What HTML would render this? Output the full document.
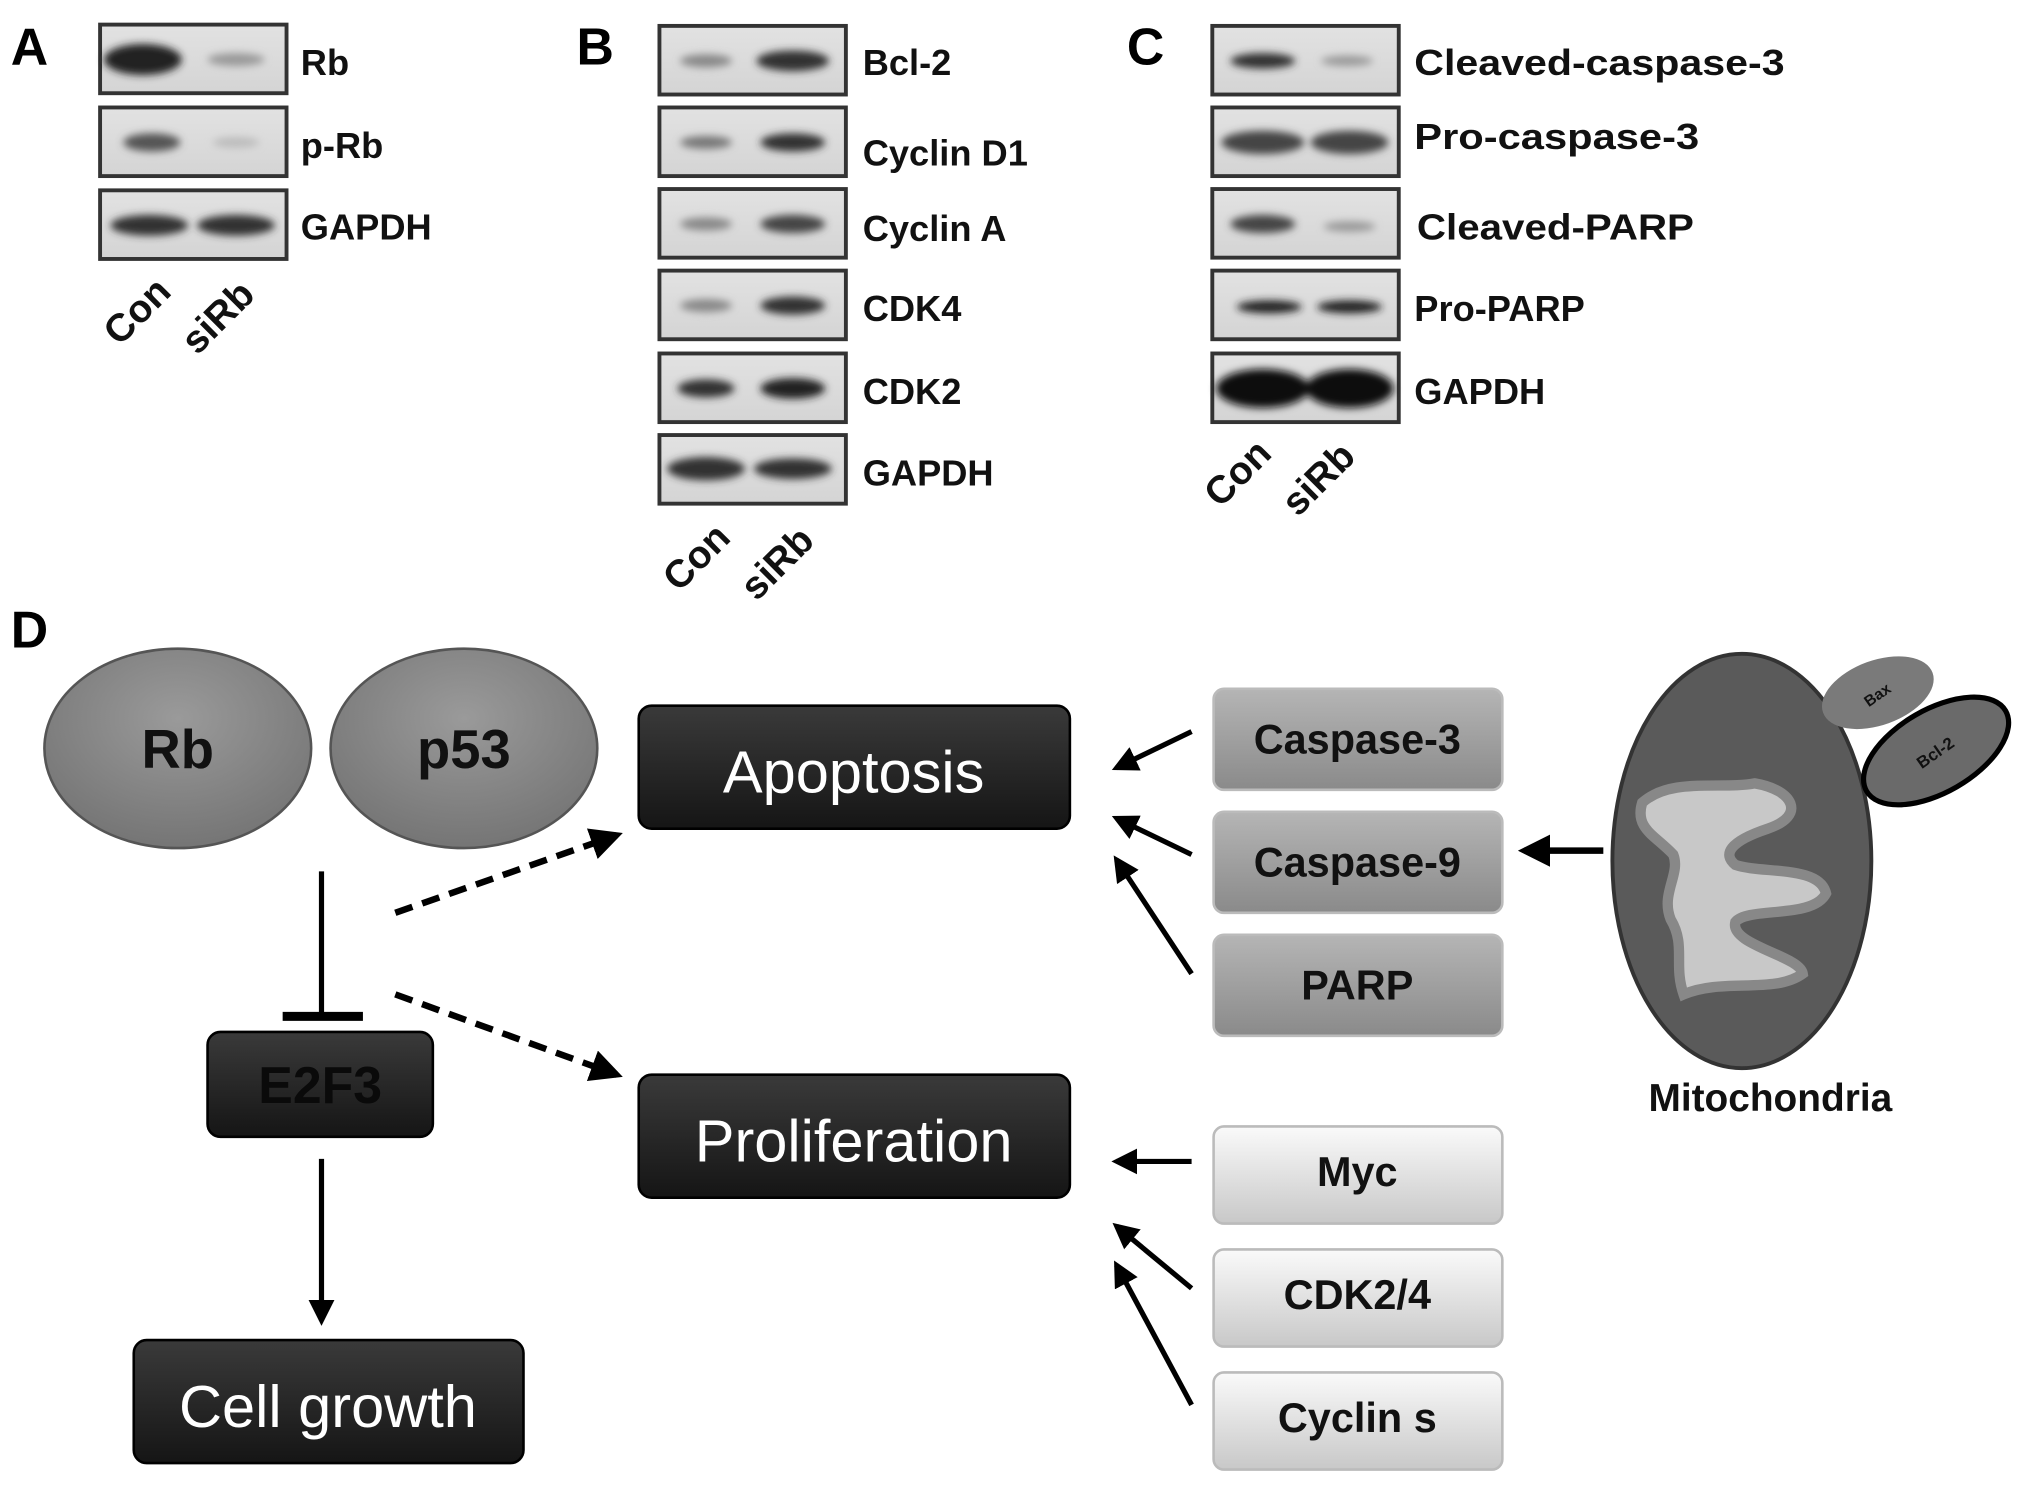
<!DOCTYPE html>
<html><head><meta charset="utf-8"><style>
html,body{margin:0;padding:0;background:#fff;}
svg{display:block}
text{font-family:"Liberation Sans Narrow","Liberation Sans",sans-serif;font-weight:bold;}
</style></head><body>
<svg width="2031" height="1489" viewBox="0 0 1568 1150" xmlns="http://www.w3.org/2000/svg">
<defs>
<linearGradient id="gbox" x1="0" y1="0" x2="0" y2="1"><stop offset="0" stop-color="#e2e2e2"/><stop offset="1" stop-color="#d4d4d4"/></linearGradient>
<linearGradient id="gdark" x1="0" y1="0" x2="0" y2="1"><stop offset="0" stop-color="#3a3a3a"/><stop offset="1" stop-color="#151515"/></linearGradient>
<linearGradient id="gmid" x1="0" y1="0" x2="0" y2="1"><stop offset="0" stop-color="#b5b5b5"/><stop offset="1" stop-color="#8a8a8a"/></linearGradient>
<linearGradient id="glight" x1="0" y1="0" x2="0" y2="1"><stop offset="0" stop-color="#fafafa"/><stop offset="1" stop-color="#c8c8c8"/></linearGradient>
<radialGradient id="gell" cx="0.5" cy="0.35" r="0.65"><stop offset="0" stop-color="#9a9a9a"/><stop offset="1" stop-color="#757575"/></radialGradient>
<filter id="blur" x="-30%" y="-100%" width="160%" height="300%"><feGaussianBlur stdDeviation="3"/></filter>
<marker id="ah" viewBox="0 0 10 10" refX="8" refY="5" markerWidth="5" markerHeight="5" orient="auto"><path d="M0,0 L10,5 L0,10 z" fill="#000"/></marker>
</defs>
<g font-size="40"><text x="8" y="50">A</text><text x="445" y="50">B</text><text x="870" y="50">C</text><text x="8" y="500">D</text></g>
<g stroke="#333" stroke-width="3" fill="url(#gbox)">
<rect x="77" y="19" width="144" height="53"/><rect x="77" y="83" width="144" height="53"/><rect x="77" y="147" width="144" height="53"/>
<rect x="509" y="20" width="144" height="53"/><rect x="509" y="83" width="144" height="53"/><rect x="509" y="146" width="144" height="53"/><rect x="509" y="209" width="144" height="53"/><rect x="509" y="273" width="144" height="53"/><rect x="509" y="336" width="144" height="53"/>
<rect x="936" y="20" width="144" height="53"/><rect x="936" y="83" width="144" height="53"/><rect x="936" y="146" width="144" height="53"/><rect x="936" y="209" width="144" height="53"/><rect x="936" y="273" width="144" height="53"/>
</g>
<g fill="#222" filter="url(#blur)">
<ellipse cx="110" cy="46" rx="30" ry="12"/><ellipse cx="182" cy="46" rx="22" ry="5" fill="#999"/>
<ellipse cx="117" cy="110" rx="22" ry="7" fill="#555"/><ellipse cx="182" cy="110" rx="18" ry="4" fill="#bbb"/>
<ellipse cx="115" cy="174" rx="30" ry="8" fill="#333"/><ellipse cx="182" cy="174" rx="30" ry="8" fill="#333"/>
<ellipse cx="545" cy="47" rx="20" ry="5" fill="#888"/><ellipse cx="612" cy="47" rx="28" ry="8" fill="#333"/>
<ellipse cx="545" cy="110" rx="20" ry="5" fill="#777"/><ellipse cx="612" cy="110" rx="25" ry="7" fill="#333"/>
<ellipse cx="545" cy="173" rx="20" ry="5" fill="#888"/><ellipse cx="612" cy="173" rx="25" ry="7" fill="#444"/>
<ellipse cx="545" cy="236" rx="20" ry="5" fill="#888"/><ellipse cx="612" cy="236" rx="25" ry="7" fill="#333"/>
<ellipse cx="545" cy="300" rx="22" ry="7" fill="#333"/><ellipse cx="612" cy="300" rx="25" ry="8" fill="#222"/>
<ellipse cx="545" cy="362" rx="30" ry="9" fill="#333"/><ellipse cx="612" cy="362" rx="30" ry="8" fill="#333"/>
<ellipse cx="975" cy="47" rx="25" ry="6" fill="#333"/><ellipse cx="1040" cy="47" rx="20" ry="4" fill="#999"/>
<ellipse cx="975" cy="110" rx="32" ry="9" fill="#444"/><ellipse cx="1042" cy="110" rx="30" ry="9" fill="#444"/>
<ellipse cx="975" cy="173" rx="25" ry="7" fill="#444"/><ellipse cx="1042" cy="175" rx="20" ry="4" fill="#999"/>
<ellipse cx="980" cy="237" rx="25" ry="5" fill="#222"/><ellipse cx="1042" cy="237" rx="25" ry="5" fill="#222"/>
<ellipse cx="975" cy="300" rx="36" ry="15" fill="#111"/><ellipse cx="1042" cy="300" rx="34" ry="15" fill="#111"/>
</g>
<g font-size="28" fill="#111">
<text x="232" y="58">Rb</text><text x="232" y="122">p-Rb</text><text x="232" y="185">GAPDH</text>
<text x="666" y="58">Bcl-2</text><text x="666" y="128">Cyclin D1</text><text x="666" y="186">Cyclin A</text><text x="666" y="248">CDK4</text><text x="666" y="312">CDK2</text><text x="666" y="375">GAPDH</text>
<text x="1092" y="58" textLength="286" lengthAdjust="spacingAndGlyphs">Cleaved-caspase-3</text><text x="1092" y="115" textLength="220" lengthAdjust="spacingAndGlyphs">Pro-caspase-3</text><text x="1094" y="185" textLength="214" lengthAdjust="spacingAndGlyphs">Cleaved-PARP</text><text x="1092" y="248">Pro-PARP</text><text x="1092" y="312">GAPDH</text>
</g>
<g font-size="30" fill="#111">
<text transform="translate(92,268) rotate(-45)">Con</text><text transform="translate(152,275) rotate(-45)">siRb</text>
<text transform="translate(524,458) rotate(-45)">Con</text><text transform="translate(584,465) rotate(-45)">siRb</text>
<text transform="translate(942,393) rotate(-45)">Con</text><text transform="translate(1002,400) rotate(-45)">siRb</text>
</g>
<ellipse cx="137" cy="578" rx="103" ry="77" fill="url(#gell)" stroke="#555" stroke-width="2"/>
<ellipse cx="358" cy="578" rx="103" ry="77" fill="url(#gell)" stroke="#555" stroke-width="2"/>
<text x="137" y="593" font-size="42" text-anchor="middle" fill="#111">Rb</text>
<text x="358" y="593" font-size="42" text-anchor="middle" fill="#111">p53</text>
<g fill="url(#gdark)" stroke="#000" stroke-width="2">
<rect x="493" y="545" width="333" height="95" rx="10"/>
<rect x="493" y="830" width="333" height="95" rx="10"/>
<rect x="160" y="797" width="174" height="81" rx="10"/>
<rect x="103" y="1035" width="301" height="95" rx="10"/>
</g>
<g fill="#fff" font-size="46" text-anchor="middle">
<text x="659" y="612" style="font-weight:normal">Apoptosis</text>
<text x="659" y="897" style="font-weight:normal">Proliferation</text>
<text x="253" y="1102" style="font-weight:normal">Cell growth</text>
</g>
<text x="247" y="852" font-size="40" text-anchor="middle" fill="#0a0a0a">E2F3</text>
<g stroke="#000" stroke-width="4" fill="none">
<line x1="248" y1="673" x2="248" y2="785"/><line x1="218" y1="785" x2="280" y2="785" stroke-width="7"/>
<line x1="248" y1="895" x2="248" y2="1020" marker-end="url(#ah)"/>
<line x1="305" y1="705" x2="476" y2="645" stroke-dasharray="14,8" marker-end="url(#ah)" stroke-width="5"/>
<line x1="305" y1="768" x2="476" y2="830" stroke-dasharray="14,8" marker-end="url(#ah)" stroke-width="5"/>
<line x1="920" y1="565" x2="862" y2="593" marker-end="url(#ah)"/>
<line x1="920" y1="660" x2="862" y2="632" marker-end="url(#ah)"/>
<line x1="920" y1="752" x2="862" y2="664" marker-end="url(#ah)"/>
<line x1="920" y1="897" x2="862" y2="897" marker-end="url(#ah)"/>
<line x1="920" y1="995" x2="862" y2="947" marker-end="url(#ah)"/>
<line x1="920" y1="1085" x2="862" y2="977" marker-end="url(#ah)"/>
<line x1="1238" y1="657" x2="1177" y2="657" marker-end="url(#ah)" stroke-width="5"/>
</g>
<g stroke="#bbb" stroke-width="2">
<rect x="937" y="532" width="223" height="78" rx="8" fill="url(#gmid)"/>
<rect x="937" y="627" width="223" height="78" rx="8" fill="url(#gmid)"/>
<rect x="937" y="722" width="223" height="78" rx="8" fill="url(#gmid)"/>
<rect x="937" y="870" width="223" height="75" rx="8" fill="url(#glight)"/>
<rect x="937" y="965" width="223" height="75" rx="8" fill="url(#glight)"/>
<rect x="937" y="1060" width="223" height="75" rx="8" fill="url(#glight)"/>
</g>
<g font-size="32" text-anchor="middle" fill="#111">
<text x="1048" y="582">Caspase-3</text><text x="1048" y="677">Caspase-9</text><text x="1048" y="772">PARP</text>
<text x="1048" y="916">Myc</text><text x="1048" y="1011">CDK2/4</text><text x="1048" y="1106">Cyclin s</text>
</g>
<ellipse cx="1345" cy="665" rx="100" ry="160" fill="#5a5a5a" stroke="#333" stroke-width="3"/>
<path d="M1268,620 C1290,600 1330,610 1355,605 C1385,610 1395,630 1365,640 C1335,650 1330,660 1340,668 C1360,675 1405,668 1410,690 C1400,710 1350,700 1340,712 C1335,730 1390,738 1392,752 C1370,768 1330,755 1300,768 C1292,745 1302,730 1290,710 C1282,690 1298,675 1292,660 C1278,645 1262,640 1268,620 z" fill="#c8c8c8" stroke="#888" stroke-width="8"/>
<ellipse cx="1450" cy="535" rx="45" ry="25" transform="rotate(-20 1450 535)" fill="#7a7a7a"/>
<ellipse cx="1495" cy="580" rx="62" ry="32" transform="rotate(-30 1495 580)" fill="#6a6a6a" stroke="#000" stroke-width="4"/>
<text x="1452" y="540" font-size="12" text-anchor="middle" transform="rotate(-35 1452 540)" fill="#111">Bax</text>
<text x="1497" y="585" font-size="13" text-anchor="middle" transform="rotate(-35 1497 585)" fill="#111">Bcl-2</text>
<text x="1367" y="858" font-size="30" text-anchor="middle" fill="#111">Mitochondria</text>
</svg>
</body></html>
